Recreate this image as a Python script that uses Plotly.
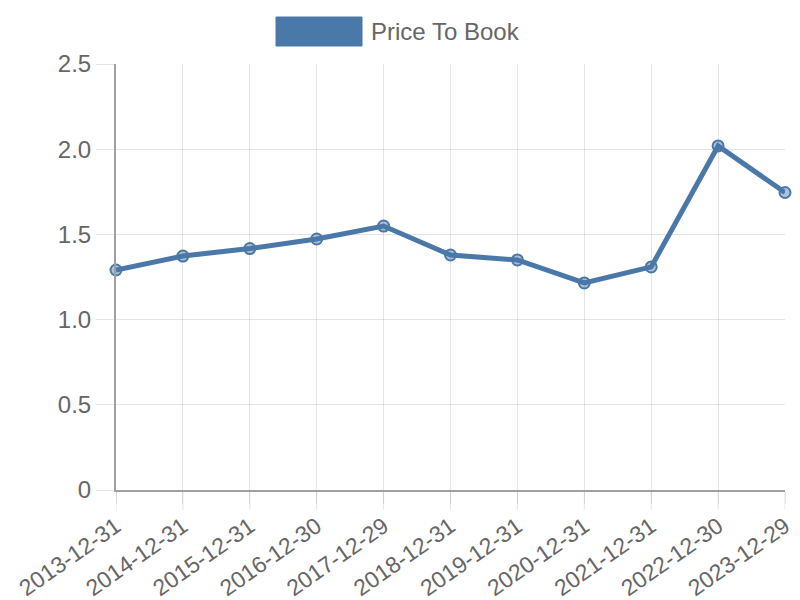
import plotly.graph_objects as go

dates = ["2013-12-31", "2014-12-31", "2015-12-31", "2016-12-30", "2017-12-29",
         "2018-12-31", "2019-12-31", "2020-12-31", "2021-12-31", "2022-12-30", "2023-12-29"]
price_to_book = [1.291, 1.373, 1.417, 1.473, 1.549, 1.379, 1.350, 1.215, 1.309, 2.019, 1.746]
y_tickvals = [0, 0.5, 1.0, 1.5, 2.0, 2.5]
y_ticktext = ["0", "0.5", "1.0", "1.5", "2.0", "2.5"]
series_name = "Price To Book"

color = "rgb(74,120,168)"
grid = "rgba(0,0,0,0.1)"
axis_col = "rgb(160,160,160)"
font = "Liberation Sans, Arial, sans-serif"
fs = 24

# page body has an 8px margin; compensate
OFF = 8
W, H = 792, 592
L, R, T = 116 - OFF, 15, 64 - OFF
B = (OFF + H) - 490
PW, PH = W - L - R, H - T - B


def px(x):
    return (x - OFF - L) / PW


def py(y):
    return (OFF + H - B - y) / PH


fig = go.Figure()
fig.add_trace(go.Scatter(
    x=list(range(len(dates))), y=price_to_book, mode="lines+markers", name=series_name,
    line=dict(color=color, width=5),
    marker=dict(size=11, color="rgba(74,120,168,0.45)", line=dict(color=color, width=2)),
    showlegend=False, cliponaxis=False,
))

# long tick marks below the x axis (continuation of the vertical grid lines)
tick_shapes = [dict(type="line", xref="x", yref="paper", x0=i, x1=i, y0=0, y1=-20 / PH,
                    line=dict(color=grid, width=1), layer="below")
               for i in range(len(dates))]

fig.update_layout(
    width=W, height=H,
    margin=dict(l=L, r=R, t=T, b=B),
    paper_bgcolor="white", plot_bgcolor="white",
    font=dict(family=font, color="#666666", size=fs),
    xaxis=dict(
        range=[0, len(dates) - 1], tickmode="array",
        tickvals=list(range(len(dates))), ticktext=dates,
        tickangle=-35, showgrid=True, gridcolor=grid, gridwidth=1,
        ticks="outside", ticklen=12, tickcolor=grid,
        showline=True, linecolor=axis_col, linewidth=2,
        tickfont=dict(size=23, color="#666666"), zeroline=False, automargin=False,
    ),
    yaxis=dict(
        range=[0, 2.5], tickmode="array", tickvals=y_tickvals, ticktext=y_ticktext,
        showgrid=True, gridcolor=grid, gridwidth=1,
        ticks="outside", ticklen=18, tickcolor=grid,
        showline=True, linecolor=axis_col, linewidth=2,
        tickfont=dict(size=fs, color="#666666"), zeroline=False, automargin=False,
    ),
    shapes=tick_shapes + [dict(type="rect", xref="paper", yref="paper",
                 x0=px(276), x1=px(362), y0=py(46), y1=py(17),
                 fillcolor=color, line=dict(color=color, width=1))],
    annotations=[dict(text=series_name, xref="paper", yref="paper",
                      x=px(369), y=py(31.5),
                      xanchor="left", yanchor="middle", showarrow=False,
                      font=dict(size=fs, color="#666666", family=font))],
)

fig.write_html("out.html")
